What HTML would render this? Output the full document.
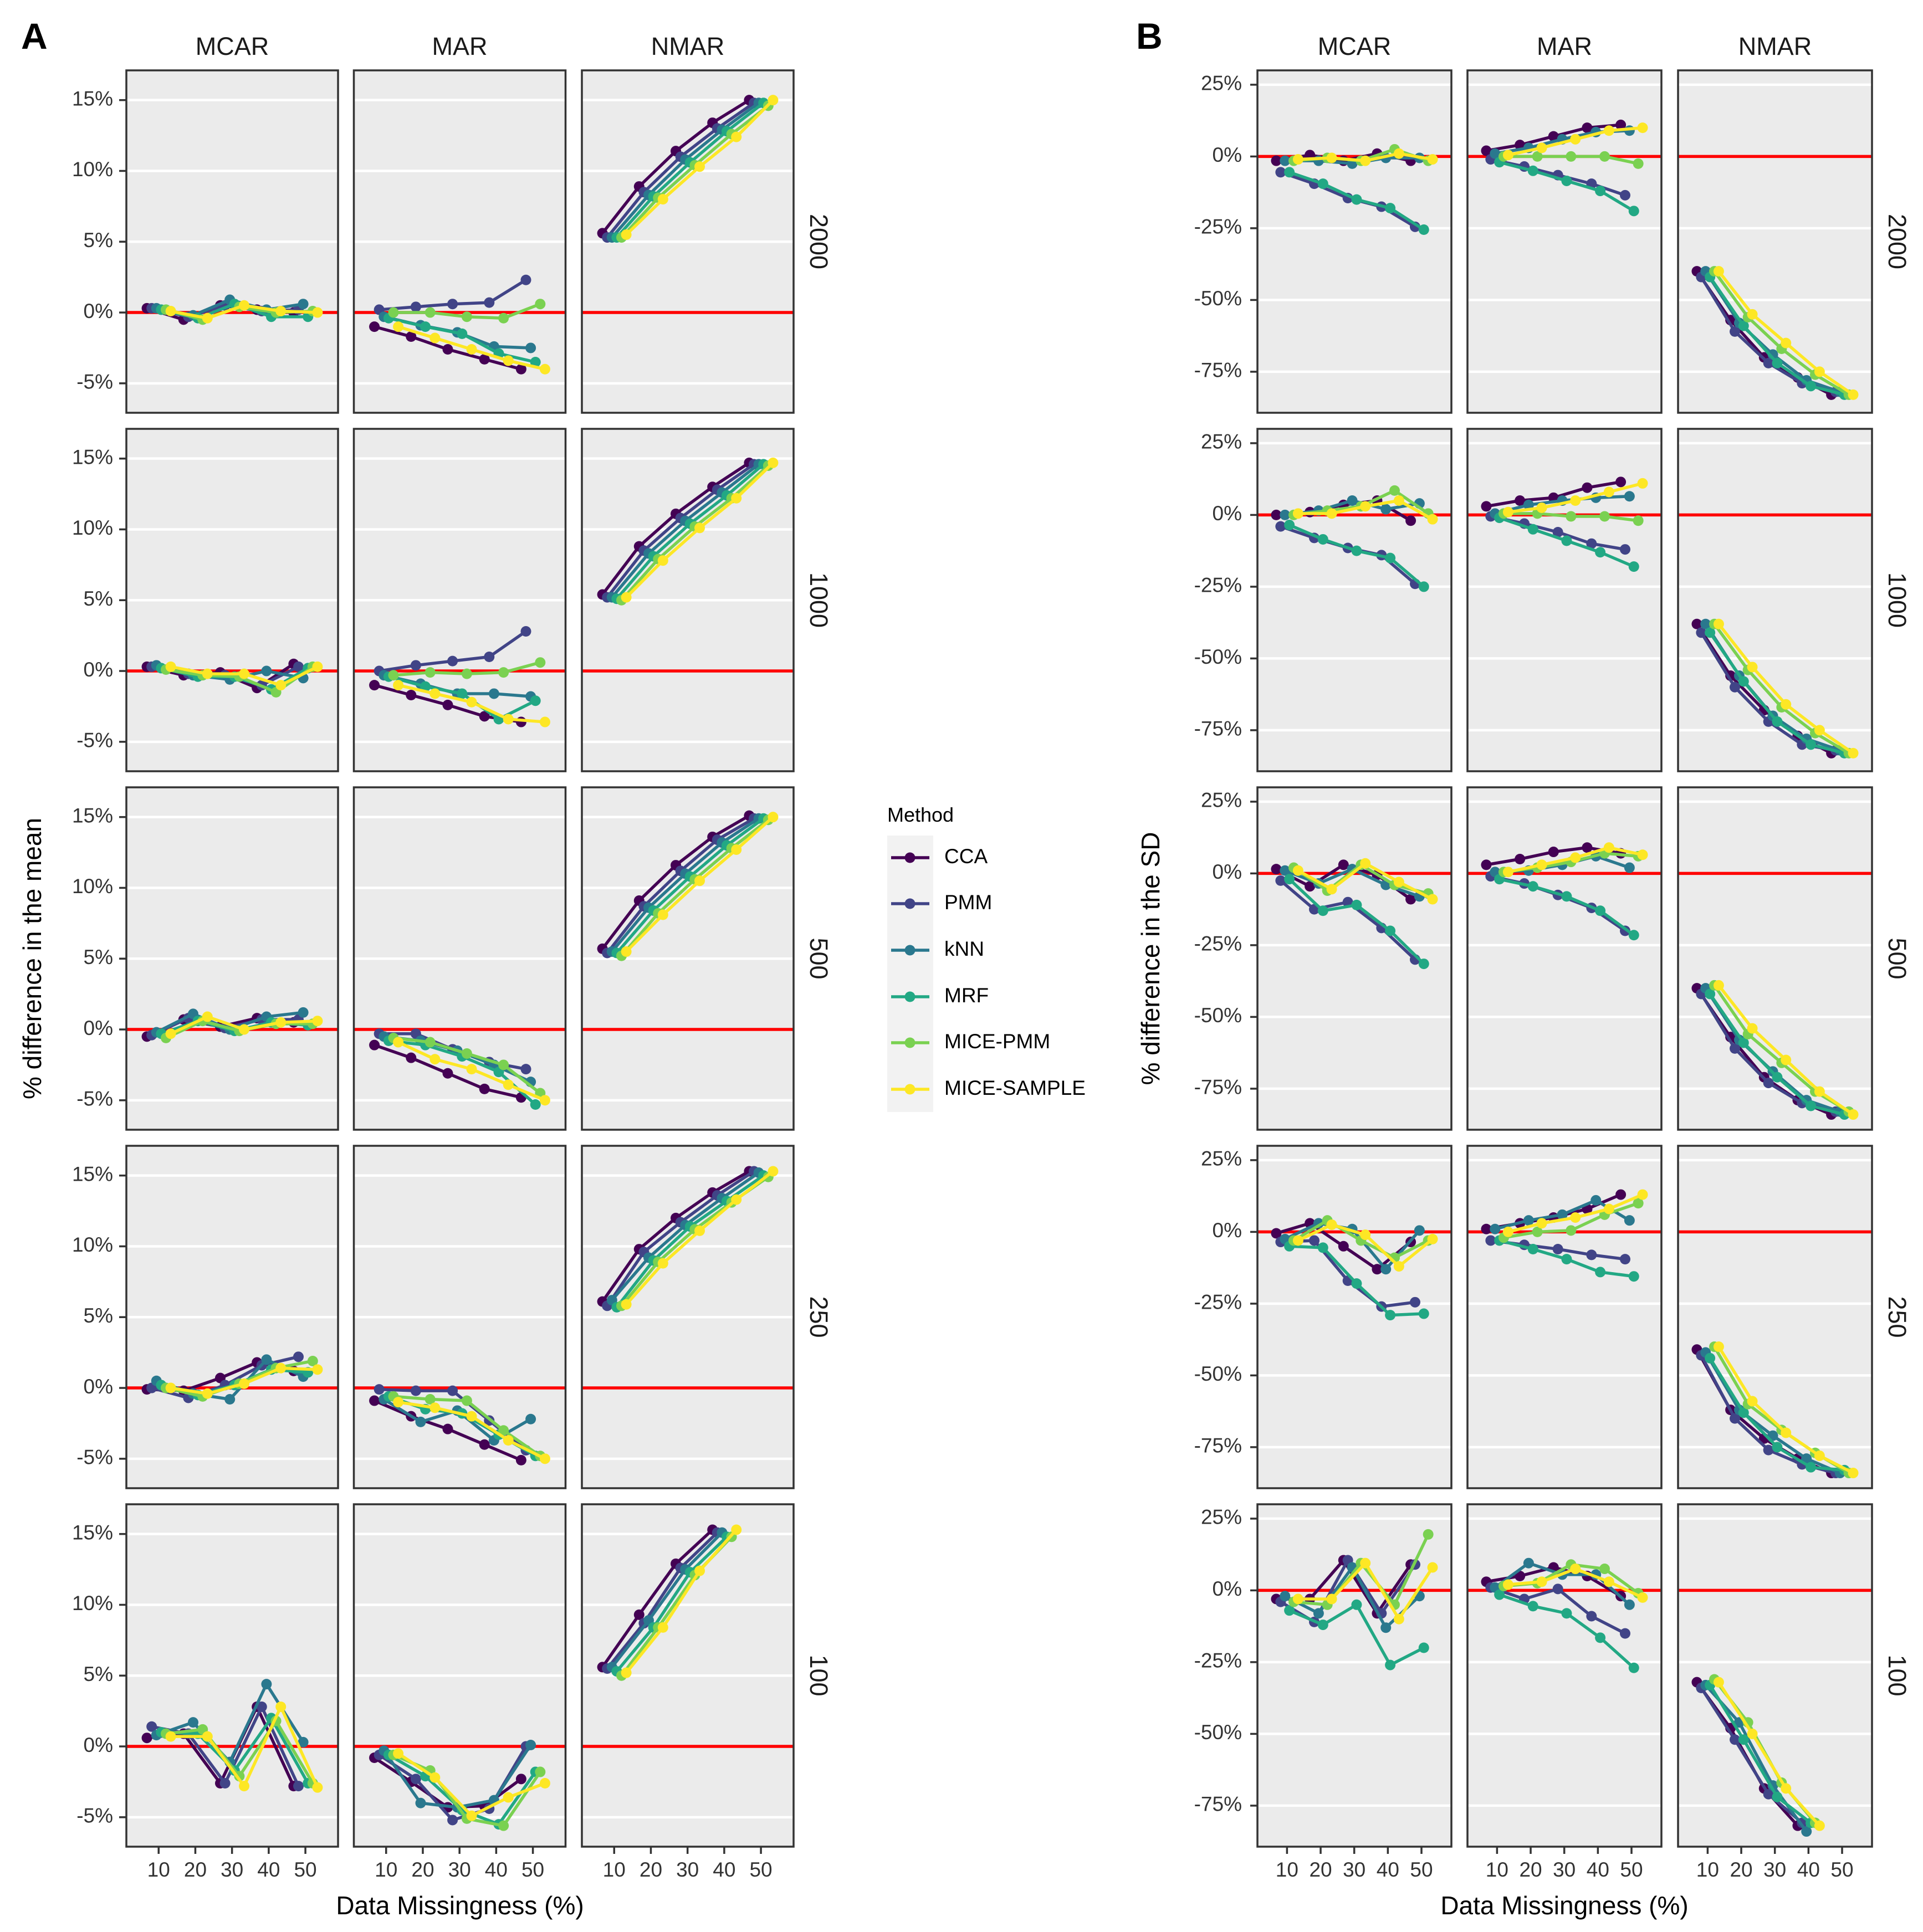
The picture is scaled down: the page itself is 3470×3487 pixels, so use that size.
<!DOCTYPE html>
<html><head><meta charset="utf-8"><title>Missing data bias chart</title>
<style>
html,body{margin:0;padding:0;background:#fff;}
svg{display:block;font-family:"Liberation Sans",Arial,sans-serif;}
</style></head>
<body>
<svg id="chart" xmlns="http://www.w3.org/2000/svg" width="3470" height="3487" viewBox="0 0 3470 3487">
<rect x="0" y="0" width="3470" height="3487" fill="#ffffff"/>
<text x="38" y="88" font-size="66" font-weight="bold" fill="#000">A</text>
<text x="2050" y="88" font-size="66" font-weight="bold" fill="#000">B</text>
<text transform="translate(74,1730) rotate(-90)" text-anchor="middle" font-size="46" fill="#000">% difference in the mean</text>
<text transform="translate(2092,1730) rotate(-90)" text-anchor="middle" font-size="46" fill="#000">% difference in the SD</text>
<text x="830" y="3455" text-anchor="middle" font-size="46" fill="#000">Data Missingness (%)</text>
<text x="2823" y="3455" text-anchor="middle" font-size="46" fill="#000">Data Missingness (%)</text>
<g id="legend">
<text x="1601" y="1483" font-size="36" fill="#000">Method</text>
<rect x="1601" y="1508" width="83" height="499" fill="#f2f2f2"/>
</g>
<g id="panels"></g>
</svg>
<script>
const methods = ["CCA","PMM","kNN","MRF","MICE-PMM","MICE-SAMPLE"];
const colors = ["#440154","#414487","#2A788E","#22A884","#7AD151","#FDE725"];
const mechanisms = ["MCAR","MAR","NMAR"];
const sampleSizes = ["2000","1000","500","250","100"];
const xLevels = [10,20,30,40,50];
const xTicks = [10,20,30,40,50];
const meanTicks = [-5,0,5,10,15];
const sdTicks = [-75,-50,-25,0,25];
const dodge = [-3.2,-1.9,-0.6,0.7,2.0,3.3];

// Panel A: % difference in the mean  (rows: 2000,1000,500,250,100)
const mean_2000_MCAR = [[0.3,-0.5,0.5,0.2,0],[0.3,-0.3,0.5,0.1,0.2],[0.3,-0.2,0.9,0.2,0.6],[0.2,-0.4,0.6,-0.3,-0.3],[0.2,-0.5,0.4,0,0.1],[0.1,-0.4,0.5,0.1,0]];
const mean_2000_MAR = [[-1,-1.7,-2.6,-3.3,-4],[0.2,0.4,0.6,0.7,2.3],[-0.3,-0.9,-1.4,-2.4,-2.5],[-0.4,-1,-1.5,-2.9,-3.5],[0,0,-0.3,-0.4,0.6],[-1,-1.8,-2.6,-3.4,-4]];
const mean_2000_NMAR = [[5.6,8.9,11.4,13.4,15],[5.3,8.5,11,13,14.8],[5.3,8.3,10.8,12.9,14.8],[5.3,8.2,10.6,12.8,14.8],[5.3,8.1,10.4,12.6,14.6],[5.5,8,10.3,12.4,15]];
const mean_1000_MCAR = [[0.3,-0.3,-0.1,-1.2,0.5],[0.3,-0.2,-0.3,-1,0.3],[0.4,-0.3,-0.6,0,-0.5],[0.2,-0.4,-0.4,-1.3,0.2],[0.1,-0.3,-0.4,-1.5,0.3],[0.3,-0.2,-0.2,-1,0.3]];
const mean_1000_MAR = [[-1,-1.7,-2.4,-3.2,-3.6],[0,0.4,0.7,1,2.8],[-0.3,-0.9,-1.6,-1.6,-1.8],[-0.4,-1.1,-1.6,-3.4,-2.1],[-0.3,-0.1,-0.2,-0.1,0.6],[-1,-1.6,-2.2,-3.4,-3.6]];
const mean_1000_NMAR = [[5.4,8.8,11.1,13,14.7],[5.2,8.5,10.8,12.8,14.6],[5.2,8.3,10.6,12.6,14.6],[5.1,8.1,10.4,12.4,14.6],[5,7.9,10.2,12.2,14.5],[5.2,7.8,10.1,12.2,14.7]];
const mean_500_MCAR = [[-0.5,0.7,0.2,0.8,0.5],[-0.4,0.8,0.1,0.7,0.7],[-0.2,1.1,0,0.9,1.2],[-0.3,0.6,-0.1,0.5,0.3],[-0.6,0.6,-0.1,0.4,0.4],[-0.3,0.9,0,0.5,0.6]];
const mean_500_MAR = [[-1.1,-2,-3.1,-4.2,-4.8],[-0.3,-0.3,-1.4,-2.3,-2.8],[-0.5,-0.8,-1.5,-2.5,-3.7],[-0.8,-1.1,-1.9,-3,-5.3],[-0.6,-0.9,-1.7,-2.5,-4.5],[-0.9,-2.1,-2.8,-3.9,-5]];
const mean_500_NMAR = [[5.7,9.1,11.6,13.6,15.1],[5.4,8.7,11.2,13.4,14.9],[5.5,8.6,11,13.2,14.9],[5.4,8.4,10.8,13,14.9],[5.2,8.2,10.6,12.8,14.8],[5.5,8.1,10.5,12.7,15]];
const mean_250_MCAR = [[-0.1,-0.2,0.7,1.8,1.2],[0,-0.7,0.2,1.6,2.2],[0.5,-0.4,-0.8,2,0.8],[0.2,-0.5,0.2,1.3,1.1],[0,-0.6,0.3,1.4,1.9],[0,-0.4,0.3,1.4,1.3]];
const mean_250_MAR = [[-0.9,-2,-2.9,-4,-5.1],[-0.1,-0.2,-0.2,-2.3,-4.4],[-0.8,-2.4,-1.6,-3.7,-2.2],[-0.6,-1.5,-1.8,-3.3,-4.8],[-0.6,-0.8,-0.9,-3,-4.8],[-1,-1.4,-2,-3.7,-5]];
const mean_250_NMAR = [[6.1,9.8,12,13.8,15.3],[5.8,9.6,11.7,13.6,15.3],[6.2,9.2,11.5,13.4,15.2],[5.7,9,11.4,13.2,15],[5.8,8.9,11.2,13.1,14.9],[5.9,8.8,11.1,13.3,15.3]];
const mean_100_MCAR = [[0.6,0.9,-2.6,2.8,-2.8],[1.4,0.9,-2.6,2.8,-2.8],[0.8,1.7,-1.1,4.4,0.3],[1,0.9,-1.7,2,-2.6],[0.9,1.2,-2.1,1.8,-2.6],[0.7,0.7,-2.8,2.8,-2.9]];
const mean_100_MAR = [[-0.8,-2.5,-4.3,-4.2,-2.3],[-0.6,-2.3,-5.2,-4.4,0],[-0.3,-4,-4.3,-3.8,0.1],[-0.6,-2.1,-4.5,-5.5,-1.8],[-0.6,-1.7,-5.1,-5.6,-1.8],[-0.5,-2.2,-4.9,-3.6,-2.6]];
const mean_100_NMAR = [[5.6,9.3,12.9,15.3],[5.5,8.7,12.6,15.1],[5.6,8.9,12.5,15.1],[5.3,8.4,12.3,14.8],[5,8.4,12.1,14.8],[5.2,8.4,12.4,15.3]];

// Panel B: % difference in the SD
const sd_2000_MCAR = [[-1.5,0.5,-1.5,1,-1.5],[-5.5,-9.5,-14.5,-17.5,-24.5],[-1.5,-1.5,-2.5,-0.5,-0.5],[-5.5,-9.5,-15,-18,-25.5],[-1.5,-0.5,-1.5,2.5,-1.5],[-1,-0.5,-1.5,1,-1]];
const sd_2000_MAR = [[2,4,7,10,11],[-1,-3.5,-6.5,-9.5,-13.5],[1,3,6,8.5,9],[-2,-5,-8.5,-12,-19],[0,0,0,0,-2.5],[0.5,3,6,9,10]];
const sd_2000_NMAR = [[-40,-57,-70,-77,-83],[-42,-61,-72,-79,-82],[-40,-58,-69,-78,-82],[-42,-59,-72,-80,-83],[-40,-56,-67,-76,-83],[-40,-55,-65,-75,-83]];
const sd_1000_MCAR = [[0,1,3.5,5,-2],[-4,-8,-11.5,-14,-24],[0,1.5,5,2,4],[-3.5,-8.5,-12.5,-15,-25],[0,1.5,3,8.5,0.5],[0.5,0.5,3,5,-1.5]];
const sd_1000_MAR = [[3,5,6,9.5,11.5],[-0.5,-3,-6,-10,-12],[0.5,3.5,5,6,6.5],[-1,-5,-9,-13,-18],[0.5,0.5,-0.5,-0.5,-2],[1,2.5,5,8,11]];
const sd_1000_NMAR = [[-38,-56,-68,-77,-83],[-41,-60,-72,-80,-82],[-38,-56,-70,-78,-82],[-41,-58,-72,-80,-83],[-38,-54,-67,-76,-83],[-38,-53,-66,-75,-83]];
const sd_500_MCAR = [[1.5,-4.5,3,-0.5,-9],[-2.5,-12.5,-10,-19,-30],[1,-3.5,1.5,-4,-8],[-2,-13,-11,-20,-31.5],[2,-6,3,-4,-7],[1,-5.5,3.5,-3,-9]];
const sd_500_MAR = [[3,5,7.5,9,7],[-1,-3.5,-7.5,-12,-20],[0.5,1,3,6,2],[-2,-4.5,-8,-13,-21.5],[0.5,2,4,7,6],[0.5,3,5.5,9,6.5]];
const sd_500_NMAR = [[-40,-57,-71,-79,-84],[-42,-61,-73,-80,-83],[-40,-58,-69,-79,-83],[-42,-59,-71,-81,-84],[-39,-56,-66,-76,-83],[-39,-54,-65,-76,-84]];
const sd_250_MCAR = [[-0.5,3,-5,-13,-3.5],[-3.5,-3,-17,-26,-24.5],[-2.5,3,1,-13,0.5],[-5,-5.5,-18,-29,-28.5],[-3,4,-3,-9,-3],[-3,2.5,-1,-12,-2.5]];
const sd_250_MAR = [[1,3,5,8,13],[-3,-4.5,-6,-8,-9.5],[1,4,6,11,4],[-3,-6,-9.5,-14,-15.5],[-2,0,0.5,6,10],[0,3,5,8,13]];
const sd_250_NMAR = [[-41,-62,-72,-79,-84],[-43,-65,-76,-81,-84],[-42,-62,-71,-79,-84],[-44,-63,-75,-82,-83],[-40,-60,-69,-77,-84],[-40,-59,-70,-78,-84]];
const sd_100_MCAR = [[-3,-3,10.5,-8,9],[-4,-11,10.5,-8,9],[-2,-8,8,-13,-2],[-7,-12,-5,-26,-20],[-4,-5,9.5,-5,19.5],[-3,-3,9.5,-10,8]];
const sd_100_MAR = [[3,5,8,5,-2],[1,-3,0.5,-9,-15],[1,9.5,5.5,5.5,-5],[-1.5,-5.5,-8,-16.5,-27],[1.5,2.5,9,7.5,-1],[2,3,7.5,3,-2.5]];
const sd_100_NMAR = [[-32,-48,-69,-82],[-34,-52,-71,-81],[-33,-46,-68,-84],[-33,-52,-72,-81],[-31,-46,-67,-81],[-32,-50,-69,-82]];

const meanData = [[mean_2000_MCAR,mean_2000_MAR,mean_2000_NMAR],[mean_1000_MCAR,mean_1000_MAR,mean_1000_NMAR],[mean_500_MCAR,mean_500_MAR,mean_500_NMAR],[mean_250_MCAR,mean_250_MAR,mean_250_NMAR],[mean_100_MCAR,mean_100_MAR,mean_100_NMAR]];
const sdData = [[sd_2000_MCAR,sd_2000_MAR,sd_2000_NMAR],[sd_1000_MCAR,sd_1000_MAR,sd_1000_NMAR],[sd_500_MCAR,sd_500_MAR,sd_500_NMAR],[sd_250_MCAR,sd_250_MAR,sd_250_NMAR],[sd_100_MCAR,sd_100_MAR,sd_100_NMAR]];

const NS = "http://www.w3.org/2000/svg";
const root = document.getElementById("panels");
const rowTop = [127,774,1421,2068,2715];
const panelH = 618;
const xMin = 1.2, xMax = 58.9;

function mk(tag, attrs, parent){
  const e = document.createElementNS(NS, tag);
  for (const k in attrs) e.setAttribute(k, attrs[k]);
  (parent||root).appendChild(e);
  return e;
}

function drawFacet(cfg){
  const {colX, panelW, yMin, yMax, ticks, data, labelOff, prefix, rightLabelX, tickFmt} = cfg;
  for (let c=0;c<3;c++){
    const t = mk("text",{x:colX[c]+panelW/2,y:99,"text-anchor":"middle","font-size":45,fill:"#1a1a1a"});
    
    
    t.textContent = mechanisms[c];
  }
  for (let r=0;r<5;r++){
    const top = rowTop[r];
    const sy = v => top + (yMax - v)/(yMax - yMin)*panelH;
    const rl = mk("text",{transform:`translate(${rightLabelX},${top+panelH/2}) rotate(90)`,"text-anchor":"middle","dominant-baseline":"middle","font-size":45,fill:"#1a1a1a"});
    
    
    rl.textContent = sampleSizes[r];
    for (let c=0;c<3;c++){
      const left = colX[c];
      const sx = v => left + (v - xMin)/(xMax - xMin)*panelW;
      const g = mk("g",{});
      
      
      const bg = mk("rect",{x:left,y:top,width:panelW,height:panelH,fill:"#ebebeb"},g);
      
      
      ticks.forEach(tv=>{
        const gl = mk("line",{x1:left,x2:left+panelW,y1:sy(tv),y2:sy(tv),stroke:"#ffffff","stroke-width":4.5},g);
        
        
      });
      const zl = mk("line",{x1:left,x2:left+panelW,y1:sy(0),y2:sy(0),stroke:"#ff0000","stroke-width":5.5},g);
      
      
      const series = data[r][c];
      series.forEach((vals,m)=>{
        const pts = vals.map((v,i)=>[sx(xLevels[i]+dodge[m]), sy(v)]);
        const pl = mk("polyline",{points:pts.map(p=>p.join(",")).join(" "),fill:"none",stroke:colors[m],"stroke-width":5.5,"stroke-linejoin":"round"},g);
        
        
        pts.forEach(p=>{
          const ci = mk("circle",{cx:p[0],cy:p[1],r:9.5,fill:colors[m]},g);
          
          
        });
      });
      const bd = mk("rect",{x:left,y:top,width:panelW,height:panelH,fill:"none",stroke:"#333333","stroke-width":3.5},g);
      
      
      if (c===0){
        ticks.forEach(tv=>{
          const tk = mk("line",{x1:left-13,x2:left,y1:sy(tv),y2:sy(tv),stroke:"#333","stroke-width":3.5});
          
          
          const tl = mk("text",{x:left-labelOff,y:sy(tv),"text-anchor":"end","dominant-baseline":"middle","font-size":37,fill:"#333"});
          
          
          tl.textContent = tickFmt(tv);
        });
      }
      if (r===4){
        xTicks.forEach(tv=>{
          const tk = mk("line",{x1:sx(tv),x2:sx(tv),y1:top+panelH,y2:top+panelH+13,stroke:"#333","stroke-width":3.5});
          
          
          const tl = mk("text",{x:sx(tv),y:3377,"text-anchor":"middle","dominant-baseline":"middle","font-size":37,fill:"#333"});
          
          
          tl.textContent = tv;
        });
      }
    }
  }
}

drawFacet({colX:[228,638.5,1050],panelW:382,yMin:-7.08,yMax:17.1,ticks:meanTicks,data:meanData,labelOff:24,prefix:"mean",rightLabelX:1474,tickFmt:v=>v+"%"});
drawFacet({colX:[2269,2648,3028],panelW:350,yMin:-89.3,yMax:30,ticks:sdTicks,data:sdData,labelOff:28,prefix:"sd",rightLabelX:3420,tickFmt:v=>v+"%"});

const legend = document.getElementById("legend");
const legendY = [1548,1631,1715,1799,1882,1966];
methods.forEach((m,i)=>{
  const g = document.createElementNS(NS,"g");
  
  
  legend.appendChild(g);
  const ln = document.createElementNS(NS,"line");
  ln.setAttribute("x1",1608); ln.setAttribute("x2",1677);
  ln.setAttribute("y1",legendY[i]); ln.setAttribute("y2",legendY[i]);
  ln.setAttribute("stroke",colors[i]); ln.setAttribute("stroke-width",5.5);
  g.appendChild(ln);
  const ci = document.createElementNS(NS,"circle");
  ci.setAttribute("cx",1642); ci.setAttribute("cy",legendY[i]); ci.setAttribute("r",9.5);
  ci.setAttribute("fill",colors[i]);
  g.appendChild(ci);
  const tx = document.createElementNS(NS,"text");
  tx.setAttribute("x",1704); tx.setAttribute("y",legendY[i]);
  tx.setAttribute("dominant-baseline","middle");
  tx.setAttribute("font-size",37); tx.setAttribute("fill","#000");
  tx.textContent = m;
  g.appendChild(tx);
});
</script>
</body></html>
